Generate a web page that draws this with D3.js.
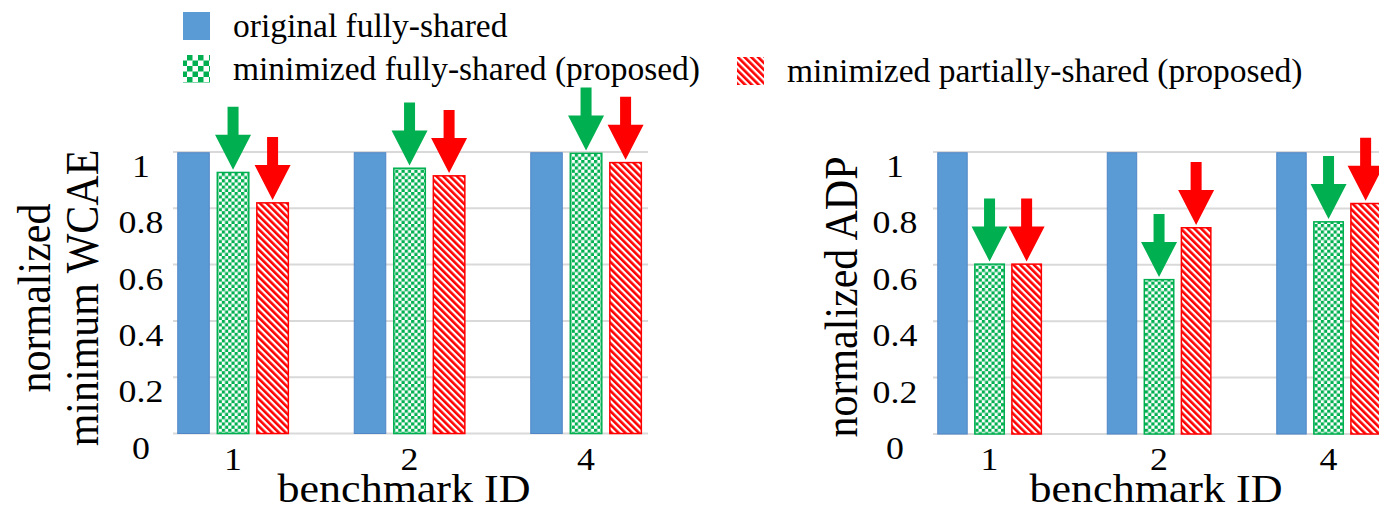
<!DOCTYPE html>
<html>
<head>
<meta charset="utf-8">
<script src="https://cdn.jsdelivr.net/npm/d3@7"></script>
<style>
  body { margin: 0; background: #fff; }
  svg { display: block; font-family: "Liberation Serif", "Times New Roman", serif; }
</style>
</head>
<body>
<div id="chart"></div>
<script>
// data
const benchmarkIds = ["1", "2", "4"];
const seriesNames = ["original fully-shared", "minimized fully-shared (proposed)", "minimized partially-shared (proposed)"];

const wcaeOriginal = [1, 1, 1];
const wcaeFully = [0.93, 0.945, 0.998];
const wcaePartial = [0.822, 0.918, 0.965];

const adpOriginal = [1, 1, 1];
const adpFully = [0.605, 0.55, 0.755];
const adpPartial = [0.605, 0.734, 0.82];

const yTicks = [0, 0.2, 0.4, 0.6, 0.8, 1];
const yTickLabels = ["0", "0.2", "0.4", "0.6", "0.8", "1"];

const W = 1379, H = 511;
const stretch = 1.12; // figure text is a little wide

const svg = d3.select("#chart").append("svg")
  .attr("width", W)
  .attr("height", H);

// fill patterns
const defs = svg.append("defs");
const chk = defs.append("pattern")
  .attr("id", "chk").attr("patternUnits", "userSpaceOnUse")
  .attr("width", 6.4).attr("height", 6.4);
chk.append("rect").attr("width", 6.4).attr("height", 6.4).attr("fill", "#fff");
chk.append("rect").attr("width", 3.2).attr("height", 3.2).attr("fill", "#00B050");
chk.append("rect").attr("x", 3.2).attr("y", 3.2).attr("width", 3.2).attr("height", 3.2).attr("fill", "#00B050");

const chkBig = defs.append("pattern")
  .attr("id", "chkBig").attr("patternUnits", "userSpaceOnUse")
  .attr("width", 11).attr("height", 11);
chkBig.append("rect").attr("width", 11).attr("height", 11).attr("fill", "#fff");
chkBig.append("rect").attr("width", 5.5).attr("height", 5.5).attr("fill", "#00B050");
chkBig.append("rect").attr("x", 5.5).attr("y", 5.5).attr("width", 5.5).attr("height", 5.5).attr("fill", "#00B050");

const stripes = defs.append("pattern")
  .attr("id", "stripes").attr("patternUnits", "userSpaceOnUse")
  .attr("width", 4.8).attr("height", 4.8)
  .attr("patternTransform", "rotate(-45)");
stripes.append("rect").attr("width", 4.8).attr("height", 4.8).attr("fill", "#fff");
stripes.append("rect").attr("width", 2.6).attr("height", 4.8).attr("fill", "#FF0000");

const fills = ["#5B9BD5", "url(#chk)", "url(#stripes)"];
const strokes = ["#4F86C6", "#00B050", "#FF0000"];
const arrowColors = [null, "#00B050", "#FF0000"];

// legend
const legendItems = [
  { x: 183, y: 12, name: seriesNames[0], fill: "#5B9BD5" },
  { x: 183, y: 55, name: seriesNames[1], fill: "url(#chkBig)" },
  { x: 737, y: 57, name: seriesNames[2], fill: "url(#stripes)" }
];
const lg = svg.append("g").attr("class", "legend");
legendItems.forEach(it => {
  lg.append("rect")
    .attr("x", it.x).attr("y", it.y)
    .attr("width", 27).attr("height", 28)
    .attr("fill", it.fill);
  lg.append("text")
    .attr("x", it.x + 50).attr("y", it.y + 25)
    .attr("font-size", 33.5)
    .attr("fill", "#000")
    .text(it.name);
});

function drawPanel(cfg) {
  const g = svg.append("g");

  const y = d3.scaleLinear().domain([0, 1]).range([cfg.y0, cfg.y1]);

  // outer band for benchmarks, inner band for the three series
  const x0 = d3.scaleBand().domain(benchmarkIds)
    .range(cfg.bandRange).paddingInner(cfg.pad).paddingOuter(cfg.pad / 2);
  const x1 = d3.scaleBand().domain(d3.range(3))
    .range([0, x0.bandwidth()]).paddingInner(0.165);

  // gridlines
  g.append("g").selectAll("line")
    .data(yTicks)
    .join("line")
    .attr("x1", cfg.plotX[0]).attr("x2", cfg.plotX[1])
    .attr("y1", d => y(d)).attr("y2", d => y(d))
    .attr("stroke", "#d9d9d9")
    .attr("stroke-width", 2);

  // tick labels
  g.append("g").selectAll("text")
    .data(yTicks)
    .join("text")
    .attr("transform", d => `translate(${cfg.tickX},${y(d) + 25}) scale(${stretch},1)`)
    .attr("text-anchor", "middle")
    .attr("font-size", 32)
    .attr("fill", "#000")
    .text((d, i) => yTickLabels[i]);

  const rows = benchmarkIds.map((id, i) => ({ id, vals: cfg.series.map(s => s[i]) }));

  const groups = g.append("g").selectAll("g")
    .data(rows)
    .join("g")
    .attr("transform", d => `translate(${x0(d.id)},0)`);

  groups.selectAll("rect")
    .data(d => d.vals.map((v, k) => ({ v, k })))
    .join("rect")
    .attr("x", d => x1(d.k) + 0.75)
    .attr("y", d => y(d.v) + 0.75)
    .attr("width", x1.bandwidth() - 1.5)
    .attr("height", d => y(0) - y(d.v) - 0.75)
    .attr("fill", d => fills[d.k])
    .attr("stroke", d => strokes[d.k])
    .attr("stroke-width", d => d.k === 0 ? 1 : 1.5);

  // arrows on the proposed bars
  const shaft = 5.5, head = 18, headH = 35, len = 63;
  groups.selectAll("path")
    .data(d => d.vals.map((v, k) => ({ v, k })).filter(d => d.k > 0))
    .join("path")
    .attr("d", d => {
      const cx = x1(d.k) + x1.bandwidth() / 2;
      const tip = y(d.v) - 2;
      return `M${cx - shaft},${tip - len} L${cx + shaft},${tip - len} L${cx + shaft},${tip - headH}` +
        ` L${cx + head},${tip - headH} L${cx},${tip} L${cx - head},${tip - headH} L${cx - shaft},${tip - headH} Z`;
    })
    .attr("fill", d => arrowColors[d.k]);

  // x tick labels
  g.append("g").selectAll("text")
    .data(benchmarkIds)
    .join("text")
    .attr("transform", d => `translate(${x0(d) + x0.bandwidth() / 2},470) scale(${stretch},1)`)
    .attr("text-anchor", "middle")
    .attr("font-size", 32)
    .attr("fill", "#000")
    .text(d => d);

  // x title
  g.append("text")
    .attr("transform", `translate(${cfg.xTitleX},502) scale(1.1,1)`)
    .attr("text-anchor", "middle")
    .attr("font-size", 40)
    .attr("fill", "#000")
    .text("benchmark ID");

  // y title (one or two lines)
  cfg.yTitle.forEach((line, i) => {
    g.append("text")
      .attr("transform", `translate(${cfg.yTitleX[i]},${cfg.yTitleY}) scale(${stretch},1) rotate(-90)`)
      .attr("text-anchor", "middle")
      .attr("font-size", 42)
      .attr("fill", "#000")
      .text(line);
  });
}

drawPanel({
  series: [wcaeOriginal, wcaeFully, wcaePartial],
  y0: 433.5, y1: 152,
  bandRange: [144.8, 674.3], pad: 0.365,
  plotX: [173, 648],
  tickX: 141,
  xTitleX: 404,
  yTitle: ["normalized", "minimum WCAE"],
  yTitleX: [50, 98],
  yTitleY: 298
});

drawPanel({
  series: [adpOriginal, adpFully, adpPartial],
  y0: 434, y1: 152,
  bandRange: [904.8, 1413.3], pad: 0.38,
  plotX: [933, 1400],
  tickX: 895,
  xTitleX: 1156,
  yTitle: ["normalized ADP"],
  yTitleX: [857],
  yTitleY: 297
});
</script>
</body>
</html>
